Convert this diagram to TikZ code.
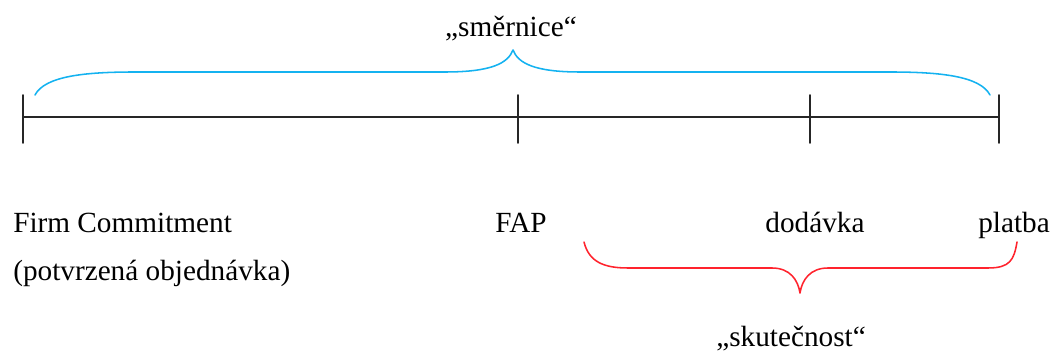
\documentclass[tikz,border=0pt]{standalone}
\usepackage{fontspec}
\setmainfont{Liberation Serif}
\definecolor{smerblue}{RGB}{20,178,240}
\definecolor{skutred}{RGB}{255,35,45}

\begin{document}
\begin{tikzpicture}[x=0.025cm,y=-0.025cm,line cap=round,line join=round,
  lab/.style={font=\fontsize{20.8}{25}\selectfont,inner sep=0pt},
  axisline/.style={line width=1.3pt,black!85},
  bracesty/.style={line width=1.1pt}]
\useasboundingbox (0,0) rectangle (1053,352);
% time axis with its four ticks
\coordinate (t0) at (23,117);
\coordinate (t3) at (999,117);
\draw[axisline] (t0)--(t3);
\foreach \x in {23,518,810,999}{\draw[axisline] (\x,95)--(\x,143);}
% labels under the axis
\node[lab,anchor=base west] (firm) at (13,233) {Firm Commitment};
\node[lab,anchor=base west] (potv) at (13,281) {(potvrzená objednávka)};
\node[lab,anchor=base] (fap) at (521,233) {FAP};
\node[lab,anchor=base] (dod) at (815,233) {dodávka};
\node[lab,anchor=base] (plat) at (1014,233) {platba};
% braces
\node[lab,anchor=base] (smer) at (511,37) {„směrnice“};
\draw[bracesty,smerblue] (35,95) .. controls (45,76) and (85,72) .. (135,72) -- (445,72) .. controls (492,72) and (508,63) .. (513,50) .. controls (518,63) and (534,72) .. (580,72) -- (890,72) .. controls (940,72) and (980,76) .. (990,95);
\node[lab,anchor=base] (skut) at (791,347) {„skutečnost“};
\draw[bracesty,skutred] (584,242) .. controls (589,262) and (604,268) .. (628,268) -- (772,268) .. controls (790,268) and (798,280) .. (800,293) .. controls (802,280) and (810,268) .. (828,268) -- (988,268) .. controls (1010,268) and (1014,260) .. (1017,242);
\end{tikzpicture}
\end{document}
